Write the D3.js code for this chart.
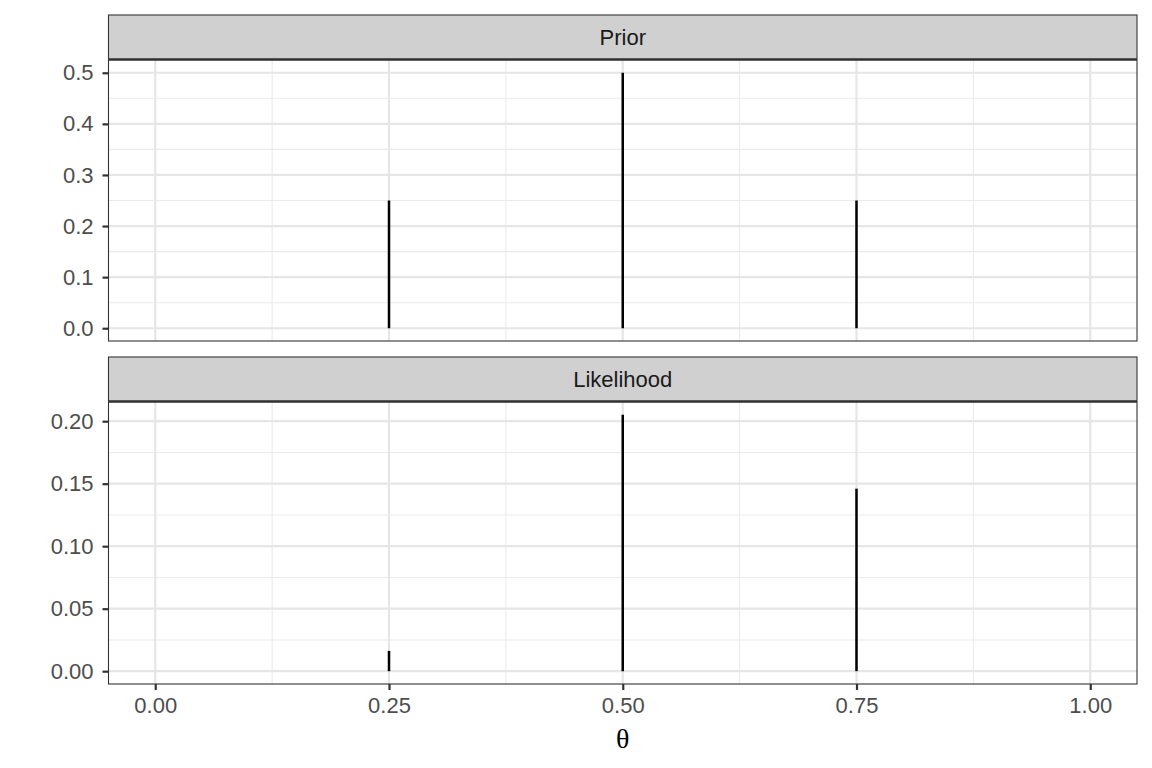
<!DOCTYPE html>
<meta charset="utf-8">
<style>
body { margin: 0; background: #fff; }
svg { display: block; }
.tick text { font-family: "Liberation Sans", Arial, sans-serif; font-size: 22px; fill: #4d4d4d; }
.strip text { font-family: "Liberation Sans", Arial, sans-serif; font-size: 22px; fill: #1a1a1a; }
</style>
<body>
<div id="chart"></div>
<script src="https://cdn.jsdelivr.net/npm/d3@7"></script>
<script>
// data
var theta = [0.25, 0.50, 0.75];
var prior = [0.25, 0.50, 0.25];
var likelihood = [0.0162, 0.2051, 0.1460];
var xTicks = [0, 0.25, 0.5, 0.75, 1];
var xTickLabels = ["0.00", "0.25", "0.50", "0.75", "1.00"];
var panels = [
  {name: "Prior", values: prior, ticks: [0, 0.1, 0.2, 0.3, 0.4, 0.5], minor: [0.05, 0.15, 0.25, 0.35, 0.45], fmt: ".1f"},
  {name: "Likelihood", values: likelihood, ticks: [0, 0.05, 0.1, 0.15, 0.2], minor: [0.025, 0.075, 0.125, 0.175], fmt: ".2f"}
];

var width = 1152, height = 768;
var left = 108.5, right = 1137;
var stripH = 44;
var panelBoxes = [{top: 15, bottom: 341}, {top: 357, bottom: 684}];

var svg = d3.select("#chart").append("svg")
  .attr("width", width).attr("height", height);

var x = d3.scaleLinear().domain([-0.05, 1.05]).range([left, right]);
var xMinor = [0.125, 0.375, 0.625, 0.875];

panels.forEach(function(p, i) {
  var box = panelBoxes[i];
  var pTop = box.top + stripH + 1;
  var maxV = d3.max(p.values);
  var y = d3.scaleLinear().domain([-0.05 * maxV, maxV * 1.05]).range([box.bottom, pTop]);

  var g = svg.append("g");

  // minor grid
  g.selectAll(".ymin").data(p.minor).enter().append("line")
    .attr("x1", left).attr("x2", right)
    .attr("y1", function(d) { return y(d); }).attr("y2", function(d) { return y(d); })
    .attr("stroke", "#ebebeb").attr("stroke-width", 1.1);
  g.selectAll(".xmin").data(xMinor).enter().append("line")
    .attr("y1", pTop).attr("y2", box.bottom)
    .attr("x1", function(d) { return x(d); }).attr("x2", function(d) { return x(d); })
    .attr("stroke", "#ebebeb").attr("stroke-width", 1.1);
  // major grid
  g.selectAll(".ymaj").data(p.ticks).enter().append("line")
    .attr("x1", left).attr("x2", right)
    .attr("y1", function(d) { return y(d); }).attr("y2", function(d) { return y(d); })
    .attr("stroke", "#e6e6e6").attr("stroke-width", 2.2);
  g.selectAll(".xmaj").data(xTicks).enter().append("line")
    .attr("y1", pTop).attr("y2", box.bottom)
    .attr("x1", function(d) { return x(d); }).attr("x2", function(d) { return x(d); })
    .attr("stroke", "#e6e6e6").attr("stroke-width", 2.2);

  // segments
  g.selectAll(".seg").data(theta).enter().append("line")
    .attr("x1", function(d) { return x(d); }).attr("x2", function(d) { return x(d); })
    .attr("y1", y(0)).attr("y2", function(d, j) { return y(p.values[j]); })
    .attr("stroke", "#000").attr("stroke-width", 2.5);

  // panel border
  g.append("rect").attr("x", left).attr("y", pTop)
    .attr("width", right - left).attr("height", box.bottom - pTop)
    .attr("fill", "none").attr("stroke", "#333").attr("stroke-width", 1.1);

  // strip
  var s = svg.append("g").attr("class", "strip");
  s.append("rect").attr("x", left).attr("y", box.top)
    .attr("width", right - left).attr("height", stripH)
    .attr("fill", "#d0d0d0").attr("stroke", "#333").attr("stroke-width", 1.1);
  s.append("line").attr("x1", left).attr("x2", right)
    .attr("y1", box.top + stripH + 0.5).attr("y2", box.top + stripH + 0.5)
    .attr("stroke", "#333").attr("stroke-width", 2);
  s.append("text").attr("x", (left + right) / 2).attr("y", box.top + stripH / 2)
    .attr("dy", "0.35em").attr("text-anchor", "middle").text(p.name);

  // y axis
  var yAxis = d3.axisLeft(y).tickValues(p.ticks).tickFormat(d3.format(p.fmt))
    .tickSize(6).tickPadding(9);
  var ya = svg.append("g").attr("transform", "translate(" + left + ",0)").call(yAxis);
  ya.select(".domain").remove();
  ya.selectAll(".tick line").attr("stroke", "#333").attr("stroke-width", 2.2);

  if (i === 1) {
    var xAxis = d3.axisBottom(x).tickValues(xTicks)
      .tickFormat(function(d, k) { return xTickLabels[k]; })
      .tickSize(6).tickPadding(7);
    var xa = svg.append("g").attr("transform", "translate(0," + box.bottom + ")").call(xAxis);
    xa.select(".domain").remove();
    xa.selectAll(".tick line").attr("stroke", "#333").attr("stroke-width", 2.2);
  }
});

svg.append("text").attr("x", (left + right) / 2).attr("y", 748)
  .attr("text-anchor", "middle")
  .style("font-family", "'Liberation Serif', 'DejaVu Serif', serif")
  .style("font-size", "28px").style("fill", "#000")
  .text("θ");
</script>
</body>
